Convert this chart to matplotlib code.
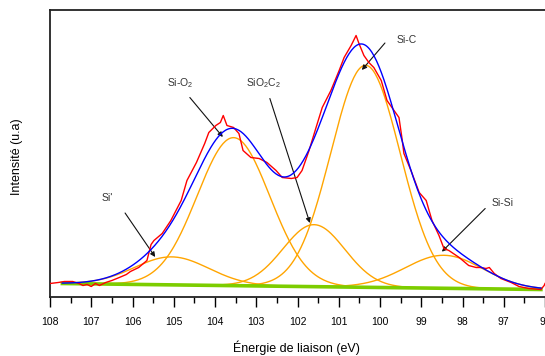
import numpy as np
import matplotlib
matplotlib.use('Agg')
import matplotlib.pyplot as plt
from matplotlib.ticker import MultipleLocator

plt.rcParams['font.family'] = ['Liberation Sans', 'DejaVu Sans']
plt.rcParams['mathtext.fontset'] = 'custom'
plt.rcParams['mathtext.rm'] = 'Liberation Sans'

# ======================
# DATA
# ======================
# raw spectrum (red)
red_ev = [108.00, 107.80, 107.65, 107.45, 107.30, 107.20, 107.10, 107.00, 106.90, 106.80,
          106.65, 106.50, 106.32, 106.15, 106.05, 105.85, 105.65, 105.55, 105.48, 105.28,
          105.07, 104.82, 104.68, 104.45, 104.25, 104.15, 103.98, 103.87, 103.80, 103.71,
          103.55, 103.42, 103.32, 103.13, 102.93, 102.74, 102.52, 102.37, 102.15, 102.01,
          101.89, 101.72, 101.55, 101.40, 101.19, 100.99, 100.87, 100.70, 100.58, 100.51,
          100.39, 100.27, 100.15, 99.97, 99.83, 99.66, 99.54, 99.47, 99.42, 99.25,
          99.05, 98.88, 98.74, 98.57, 98.45, 98.33, 98.08, 97.85, 97.67, 97.55,
          97.43, 97.35, 97.23, 97.07, 96.82, 96.63, 96.39, 96.10, 96.02, 96.00]
red_int = [13, 14, 15, 15, 13, 11, 12, 10, 13, 11,
           14, 16, 19, 22, 25, 29, 36, 52, 56, 63,
           76, 96, 116, 134, 153, 164, 171, 174, 181, 171,
           169, 163, 146, 139, 138, 134, 126, 119, 118, 119,
           126, 146, 169, 189, 206, 226, 239, 251, 261, 253,
           241, 234, 229, 216, 196, 186, 179, 159, 143, 126,
           104, 96, 76, 61, 48, 46, 39, 31, 29, 29,
           28, 29, 23, 18, 14, 10, 8, 7, 11, 13]

# fitted components (orange): center (eV), height, width
comp_names = ["Si'", r'Si-O$_\mathregular{2}$', r'SiO$_\mathregular{2}$C$_\mathregular{2}$', 'Si-C', 'Si-Si']
comp_center = [105.05, 103.55, 101.60, 100.35, 98.45]
comp_height = [28, 148, 62, 222, 33]
comp_sigma = [0.90, 0.88, 0.75, 0.84, 0.94]

# background (green)
base_ev = [107.7, 96.1]
base_int = [13, 7]

# ======================
# FIGURE
# ======================
fig = plt.figure(figsize=(5.45, 3.56), dpi=100)
ax = fig.add_axes([50 / 545, 1 - 296.5 / 356, 495 / 545, 287 / 356])

ev = np.linspace(base_ev[0], base_ev[1], 400)
bg = np.interp(ev, base_ev[::-1], base_int[::-1])

ax.plot(ev, bg, color='#7ccd00', lw=2.6, zorder=3.5)

total = bg.copy()
for c, h, s in zip(comp_center, comp_height, comp_sigma):
    g = h * np.exp(-(ev - c) ** 2 / (2 * s ** 2))
    total += g
    ax.plot(ev, g + bg, color='#ffa500', lw=1.0, zorder=3)

ax.plot(red_ev, red_int, color='#ff0000', lw=1.0, zorder=4)
ax.plot(ev, total, color='#0000ff', lw=1.0, zorder=5)

# labels + arrows: (text pos), (arrow start), (arrow end)
notes = [
    ((106.62, 98.5), (106.18, 83.5), (105.45, 39.5)),
    ((104.85, 213.5), (104.61, 199.0), (103.81, 159.5)),
    ((102.82, 213.5), (102.67, 198.0), (101.70, 73.5)),
    ((99.35, 256.5), (99.88, 253.5), (100.44, 226.5)),
    ((97.03, 93.0), (97.45, 88.0), (98.50, 44.8)),
]
for name, (tp, a0, a1) in zip(comp_names, notes):
    ax.text(tp[0], tp[1], name, fontsize=7.5, color='#333333', ha='center', va='center')
    ax.annotate('', xy=a1, xytext=a0,
                arrowprops=dict(arrowstyle='-|>', color='#111111', lw=0.8,
                                mutation_scale=7, shrinkA=0, shrinkB=0))

ax.set_xlim(108, 96)
ax.set_ylim(0, 287)
ax.xaxis.set_major_locator(MultipleLocator(1))
ax.xaxis.set_minor_locator(MultipleLocator(0.5))
ax.tick_params(axis='x', which='major', direction='out', length=7.5, width=1,
               labelsize=7.5, pad=7)
ax.tick_params(axis='x', which='minor', direction='out', length=4, width=1)
ax.set_yticks([])

for side in ['left', 'top', 'bottom']:
    ax.spines[side].set_linewidth(1.3)
    ax.spines[side].set_color('#222222')
ax.spines['right'].set_visible(False)

fig.text(296 / 545, 1 - 348 / 356, 'Énergie de liaison (eV)', fontsize=9,
         ha='center', va='center')
fig.text(17 / 545, 1 - 157 / 356, 'Intensité (u.a)', fontsize=9, rotation=90,
         ha='center', va='center')

fig.savefig('out.png', dpi=100)
